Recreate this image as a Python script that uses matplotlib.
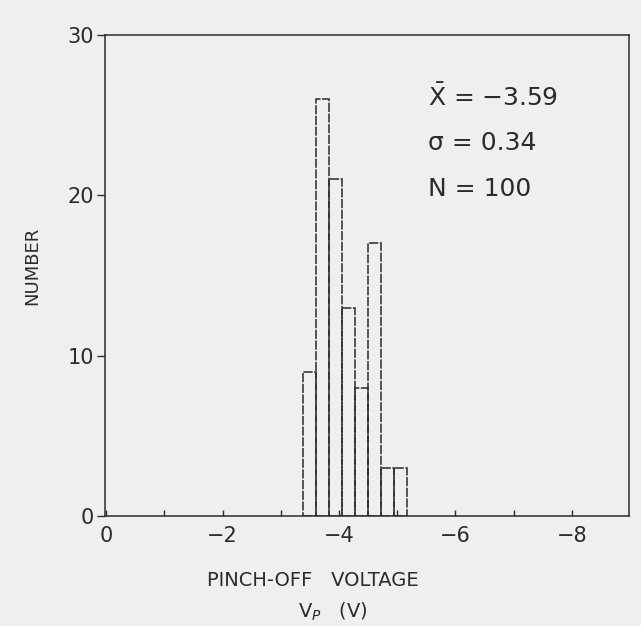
import numpy as np
import matplotlib.pyplot as plt
from matplotlib.ticker import MultipleLocator

# histogram of pinch-off voltage
bin_start = -3.38
bin_width = -0.224
counts = [9, 26, 21, 13, 8, 17, 3, 3]

x_ticks = [0, -2, -4, -6, -8]
x_tick_labels = ['0', '\u22122', '\u22124', '\u22126', '\u22128']
y_ticks = [0, 10, 20, 30]
y_tick_labels = ['0', '10', '20', '30']

stats_lines = ['$\\bar{\\mathrm{X}}$ = \u22123.59', '\u03c3 = 0.34', 'N = 100']

ink = '#2b2b2b'
paper = '#efefef'

fig = plt.figure(figsize=(6.41, 6.26), dpi=100, facecolor=paper)
ax = fig.add_axes([105 / 641, 110 / 626, 524 / 641, 481 / 626], facecolor=paper)

lefts = bin_start + bin_width * np.arange(len(counts))
ax.bar(lefts, counts, width=bin_width, align='edge',
       facecolor='none', edgecolor=ink, linewidth=1.1, linestyle=(0, (6, 1)))

ax.set_xlim(0.02, -8.98)
ax.set_ylim(0, 30)

ax.set_xticks(x_ticks)
ax.set_xticklabels(x_tick_labels)
ax.xaxis.set_minor_locator(MultipleLocator(1))
ax.tick_params(axis='x', which='both', direction='in', length=4, width=1,
               colors=ink, labelsize=15, pad=7)
ax.set_yticks(y_ticks)
ax.set_yticklabels(y_tick_labels)
ax.tick_params(axis='y', direction='out', length=6, width=1,
               colors=ink, labelsize=15, pad=2)

for s in ax.spines.values():
    s.set_color(ink)
    s.set_linewidth(1.1)

fig.text(313 / 641, 1 - 580 / 626, 'PINCH-OFF   VOLTAGE', fontsize=14,
         color=ink, ha='center', va='center')
fig.text(333 / 641, 1 - 612 / 626, 'V$_P$   (V)', fontsize=14,
         color=ink, ha='center', va='center')
fig.text(32 / 641, 1 - 266 / 626, 'NUMBER', fontsize=13, color=ink,
         rotation=90, ha='center', va='center')

for i, line in enumerate(stats_lines):
    ax.text(0.616, 0.87 - i * 0.095, line, transform=ax.transAxes,
            fontsize=18, color=ink, va='center', ha='left')

fig.savefig('out.png', dpi=100, facecolor=paper)
